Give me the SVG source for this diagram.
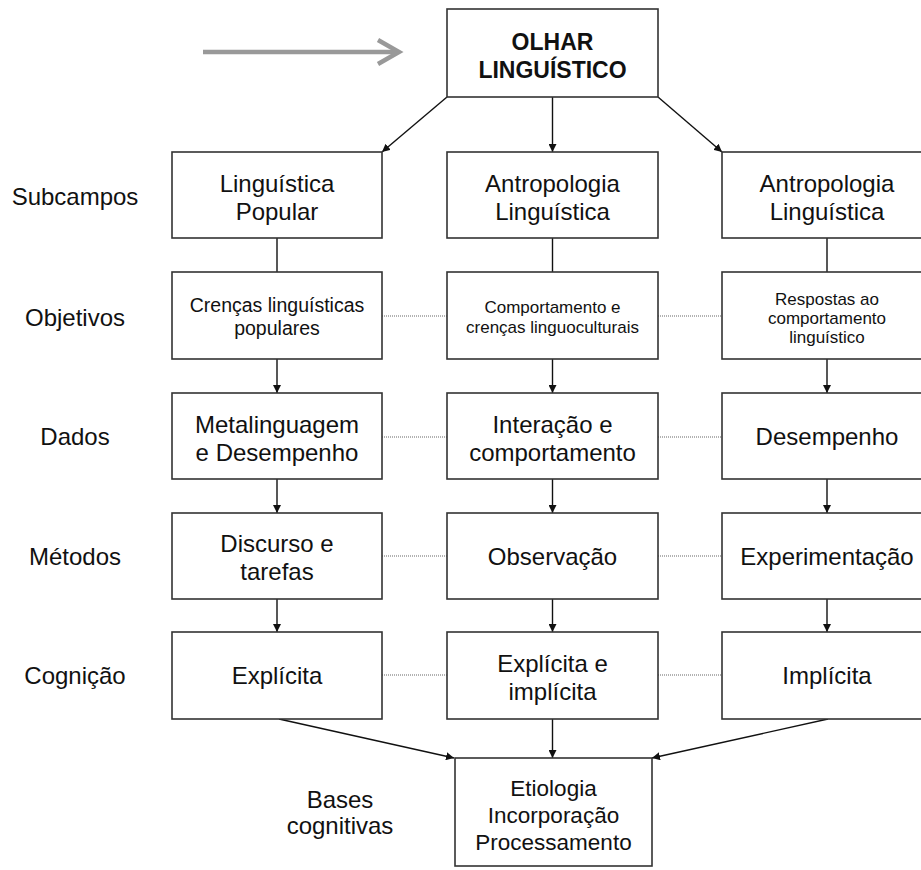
<svg xmlns="http://www.w3.org/2000/svg" width="921" height="870" viewBox="0 0 921 870">
<defs>
<marker id="ah" viewBox="0 0 10 10" refX="10" refY="5" markerWidth="8" markerHeight="8" markerUnits="userSpaceOnUse" orient="auto">
<path d="M0,0 L10,5 L0,10 z" fill="#111"/>
</marker>
<style>
.box{fill:#fff;stroke:#333;stroke-width:1.6}
text{font-family:"Liberation Sans",Arial,sans-serif;fill:#111;text-anchor:middle}
.t24{font-size:24px}
.t22{font-size:22.5px}
.t19{font-size:19.5px}
.t17{font-size:17px}
.lab{font-size:24px}
.title{font-size:23px;font-weight:bold}
.ln{stroke:#111;stroke-width:1.4;fill:none}
.arr{stroke:#111;stroke-width:1.4;fill:none;marker-end:url(#ah)}
.dot{stroke:#666;stroke-width:1.2;stroke-dasharray:1 1;fill:none}
</style>
</defs>
<rect width="921" height="870" fill="#fff"/>

<g id="pointer">
<line x1="203" y1="52" x2="397" y2="52" stroke="#999" stroke-width="4.5"/>
<polyline points="378,40 399,52 378,64" fill="none" stroke="#999" stroke-width="4.5"/>
</g>

<g id="labels">
<text class="lab" x="75" y="205">Subcampos</text>
<text class="lab" x="75" y="326">Objetivos</text>
<text class="lab" x="75" y="445">Dados</text>
<text class="lab" x="75" y="565">Métodos</text>
<text class="lab" x="75" y="684">Cognição</text>
<text class="lab" x="340" y="808">Bases</text>
<text class="lab" x="340" y="834">cognitivas</text>
</g>

<g id="connectors">
<line class="arr" x1="447" y1="97" x2="382" y2="152"/>
<line class="arr" x1="552.5" y1="97" x2="552.5" y2="152"/>
<line class="arr" x1="658" y1="97" x2="722" y2="152"/>
<line class="ln" x1="277" y1="238" x2="277" y2="272"/>
<line class="ln" x1="552.5" y1="238" x2="552.5" y2="272"/>
<line class="ln" x1="827" y1="238" x2="827" y2="272"/>
<line class="arr" x1="277" y1="359" x2="277" y2="393"/>
<line class="arr" x1="552.5" y1="359" x2="552.5" y2="393"/>
<line class="arr" x1="827" y1="359" x2="827" y2="393"/>
<line class="arr" x1="277" y1="479" x2="277" y2="513"/>
<line class="arr" x1="552.5" y1="479" x2="552.5" y2="513"/>
<line class="arr" x1="827" y1="479" x2="827" y2="513"/>
<line class="arr" x1="277" y1="599" x2="277" y2="632"/>
<line class="arr" x1="552.5" y1="599" x2="552.5" y2="632"/>
<line class="arr" x1="827" y1="599" x2="827" y2="632"/>
<line class="arr" x1="279" y1="719" x2="454" y2="758"/>
<line class="arr" x1="552.5" y1="719" x2="552.5" y2="758"/>
<line class="arr" x1="828" y1="719" x2="652" y2="758"/>
<line class="dot" x1="382" y1="316" x2="447" y2="316"/>
<line class="dot" x1="658" y1="316" x2="722" y2="316"/>
<line class="dot" x1="382" y1="437" x2="447" y2="437"/>
<line class="dot" x1="658" y1="437" x2="722" y2="437"/>
<line class="dot" x1="382" y1="556" x2="447" y2="556"/>
<line class="dot" x1="658" y1="556" x2="722" y2="556"/>
<line class="dot" x1="382" y1="675" x2="447" y2="675"/>
<line class="dot" x1="658" y1="675" x2="722" y2="675"/>
</g>

<g id="olhar">
<rect class="box" x="447" y="9" width="211" height="88"/>
<text class="title" x="552.5" y="50">OLHAR</text>
<text class="title" x="552.5" y="78">LINGUÍSTICO</text>
</g>

<g id="sub1">
<rect class="box" x="172" y="152" width="210" height="86"/>
<text class="t24" x="277" y="192">Linguística</text>
<text class="t24" x="277" y="220">Popular</text>
</g>
<g id="sub2">
<rect class="box" x="447" y="152" width="211" height="86"/>
<text class="t24" x="552.5" y="192">Antropologia</text>
<text class="t24" x="552.5" y="220">Linguística</text>
</g>
<g id="sub3">
<rect class="box" x="722" y="152" width="210" height="86"/>
<text class="t24" x="827" y="192">Antropologia</text>
<text class="t24" x="827" y="220">Linguística</text>
</g>

<g id="obj1">
<rect class="box" x="172" y="272" width="210" height="87"/>
<text class="t19" x="277" y="312">Crenças linguísticas</text>
<text class="t19" x="277" y="335">populares</text>
</g>
<g id="obj2">
<rect class="box" x="447" y="272" width="211" height="87"/>
<text class="t17" x="552.5" y="313">Comportamento e</text>
<text class="t17" x="552.5" y="333">crenças linguoculturais</text>
</g>
<g id="obj3">
<rect class="box" x="722" y="272" width="210" height="87"/>
<text class="t17" x="827" y="305">Respostas ao</text>
<text class="t17" x="827" y="324">comportamento</text>
<text class="t17" x="827" y="343">linguístico</text>
</g>

<g id="dad1">
<rect class="box" x="172" y="393" width="210" height="86"/>
<text class="t24" x="277" y="433">Metalinguagem</text>
<text class="t24" x="277" y="461">e Desempenho</text>
</g>
<g id="dad2">
<rect class="box" x="447" y="393" width="211" height="86"/>
<text class="t24" x="552.5" y="433">Interação e</text>
<text class="t24" x="552.5" y="461">comportamento</text>
</g>
<g id="dad3">
<rect class="box" x="722" y="393" width="210" height="86"/>
<text class="t24" x="827" y="445">Desempenho</text>
</g>

<g id="met1">
<rect class="box" x="172" y="513" width="210" height="86"/>
<text class="t24" x="277" y="552">Discurso e</text>
<text class="t24" x="277" y="580">tarefas</text>
</g>
<g id="met2">
<rect class="box" x="447" y="513" width="211" height="86"/>
<text class="t24" x="552.5" y="565">Observação</text>
</g>
<g id="met3">
<rect class="box" x="722" y="513" width="210" height="86"/>
<text class="t24" x="827" y="565">Experimentação</text>
</g>

<g id="cog1">
<rect class="box" x="172" y="632" width="210" height="87"/>
<text class="t24" x="277" y="684">Explícita</text>
</g>
<g id="cog2">
<rect class="box" x="447" y="632" width="211" height="87"/>
<text class="t24" x="552.5" y="672">Explícita e</text>
<text class="t24" x="552.5" y="700">implícita</text>
</g>
<g id="cog3">
<rect class="box" x="722" y="632" width="210" height="87"/>
<text class="t24" x="827" y="684">Implícita</text>
</g>

<g id="bases">
<rect class="box" x="455" y="758" width="197" height="108"/>
<text class="t22" x="553.5" y="796">Etiologia</text>
<text class="t22" x="553.5" y="823">Incorporação</text>
<text class="t22" x="553.5" y="850">Processamento</text>
</g>
</svg>
